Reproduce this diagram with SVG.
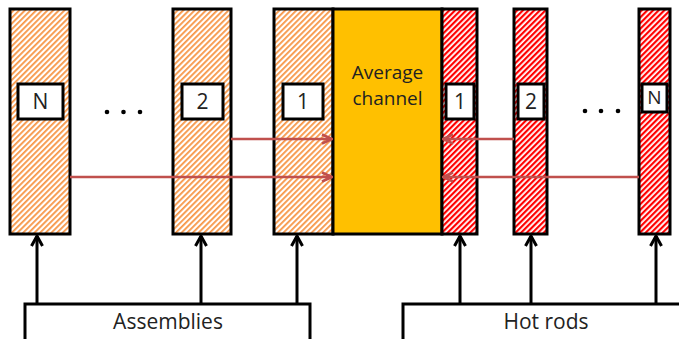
<svg xmlns="http://www.w3.org/2000/svg" width="679" height="339" viewBox="0 0 679 339">
  <defs>
    <!-- diagonal hatching for fuel assemblies (orange) and hot rods (red) -->
    <pattern id="hatchOrange" patternUnits="userSpaceOnUse" width="4" height="4" patternTransform="rotate(45)">
      <rect width="4" height="4" fill="#fff"/>
      <rect width="1.8" height="4" fill="#F79646"/>
    </pattern>
    <pattern id="hatchRed" patternUnits="userSpaceOnUse" width="4" height="4" patternTransform="rotate(45)">
      <rect width="4" height="4" fill="#fff"/>
      <rect width="2.2" height="4" fill="#FF0000"/>
    </pattern>
    <marker id="headRed" viewBox="0 0 12 12" refX="11" refY="6" markerWidth="12" markerHeight="12" markerUnits="userSpaceOnUse" orient="auto">
      <path d="M1,1.5 L11,6 L1,10.5" fill="none" stroke="#C0504D" stroke-width="2.5"/>
    </marker>
    <marker id="headBlack" viewBox="0 0 14 14" refX="12" refY="7" markerWidth="14" markerHeight="14" markerUnits="userSpaceOnUse" orient="auto">
      <path d="M2,1.5 L12,7 L2,12.5" fill="none" stroke="#000" stroke-width="3"/>
    </marker>
  </defs>
  <style>
    .col { stroke: #000; stroke-width: 3; }
    .asm { fill: url(#hatchOrange); }
    .rod { fill: url(#hatchRed); }
    .tag { fill: #fff; stroke: #000; stroke-width: 3; }
    .lbl { font-family: "Open Sans", "Liberation Sans", sans-serif; font-size: 19px; fill: #222; text-anchor: middle; }
    .num { font-size: 21px; }
    .big { font-size: 21px; }
    .mid { font-size: 19px; }
    .flow { stroke: #C0504D; stroke-width: 2.5; fill: none; marker-end: url(#headRed); }
    .feed { stroke: #000; stroke-width: 3; fill: none; marker-end: url(#headBlack); }
    .group { fill: #fff; stroke: #000; stroke-width: 3; }
    .dot { fill: #000; }
  </style>

  <!-- fuel assemblies -->
  <g id="assembly-N">
    <rect class="col asm" x="10" y="9" width="60" height="225"/>
    <rect class="tag" x="18" y="84" width="45" height="35"/>
    <text class="lbl num" x="40.5" y="109">N</text>
  </g>
  <g id="assembly-2">
    <rect class="col asm" x="173" y="9" width="58" height="225"/>
    <rect class="tag" x="182" y="84" width="41" height="35"/>
    <text class="lbl num" x="202.5" y="109">2</text>
  </g>
  <g id="assembly-1">
    <rect class="col asm" x="274" y="9" width="59" height="225"/>
    <rect class="tag" x="283" y="84" width="40" height="35"/>
    <text class="lbl num" x="303" y="109">1</text>
  </g>

  <!-- average channel -->
  <g id="average-channel">
    <rect class="col" x="333" y="9" width="109" height="225" fill="#FFC000"/>
    <text class="lbl mid" x="387.5" y="79">Average</text>
    <text class="lbl mid" x="387.5" y="105">channel</text>
  </g>

  <!-- hot rods -->
  <g id="hotrod-1">
    <rect class="col rod" x="442" y="9" width="35" height="225"/>
    <rect class="tag" x="446" y="84" width="28" height="35"/>
    <text class="lbl num" x="460" y="109">1</text>
  </g>
  <g id="hotrod-2">
    <rect class="col rod" x="514" y="9" width="33" height="225"/>
    <rect class="tag" x="518" y="84" width="26" height="35"/>
    <text class="lbl num" x="531" y="109">2</text>
  </g>
  <g id="hotrod-N">
    <rect class="col rod" x="639" y="9" width="31" height="225"/>
    <rect class="tag" x="642" y="84" width="25" height="28"/>
    <text class="lbl" x="654.5" y="104" font-size="16">N</text>
  </g>

  <!-- ellipses between columns -->
  <g id="ellipsis-assemblies">
    <circle class="dot" cx="107" cy="112" r="2.3"/>
    <circle class="dot" cx="123.5" cy="112" r="2.3"/>
    <circle class="dot" cx="140" cy="112" r="2.3"/>
  </g>
  <g id="ellipsis-rods">
    <circle class="dot" cx="585" cy="111" r="2.3"/>
    <circle class="dot" cx="601" cy="111" r="2.3"/>
    <circle class="dot" cx="618" cy="111" r="2.3"/>
  </g>

  <!-- group boxes -->
  <g id="assemblies">
    <rect class="group" x="25" y="304" width="285" height="50"/>
    <text class="lbl big" x="168" y="329">Assemblies</text>
  </g>
  <g id="hot-rods">
    <rect class="group" x="403" y="304" width="300" height="50"/>
    <text class="lbl big" x="546" y="329">Hot rods</text>
  </g>

  <!-- connectors -->
  <g id="connectors">
    <line class="flow" x1="231" y1="139" x2="332" y2="139"/>
    <line class="flow" x1="70" y1="177" x2="332" y2="177"/>
    <line class="flow" x1="514" y1="139" x2="443" y2="139"/>
    <line class="flow" x1="639" y1="177" x2="443" y2="177"/>

    <line class="feed" x1="37" y1="304" x2="37" y2="236"/>
    <line class="feed" x1="201" y1="304" x2="201" y2="236"/>
    <line class="feed" x1="297" y1="304" x2="297" y2="236"/>
    <line class="feed" x1="460" y1="304" x2="460" y2="236"/>
    <line class="feed" x1="531" y1="304" x2="531" y2="236"/>
    <line class="feed" x1="656" y1="304" x2="656" y2="236"/>
  </g>
</svg>
